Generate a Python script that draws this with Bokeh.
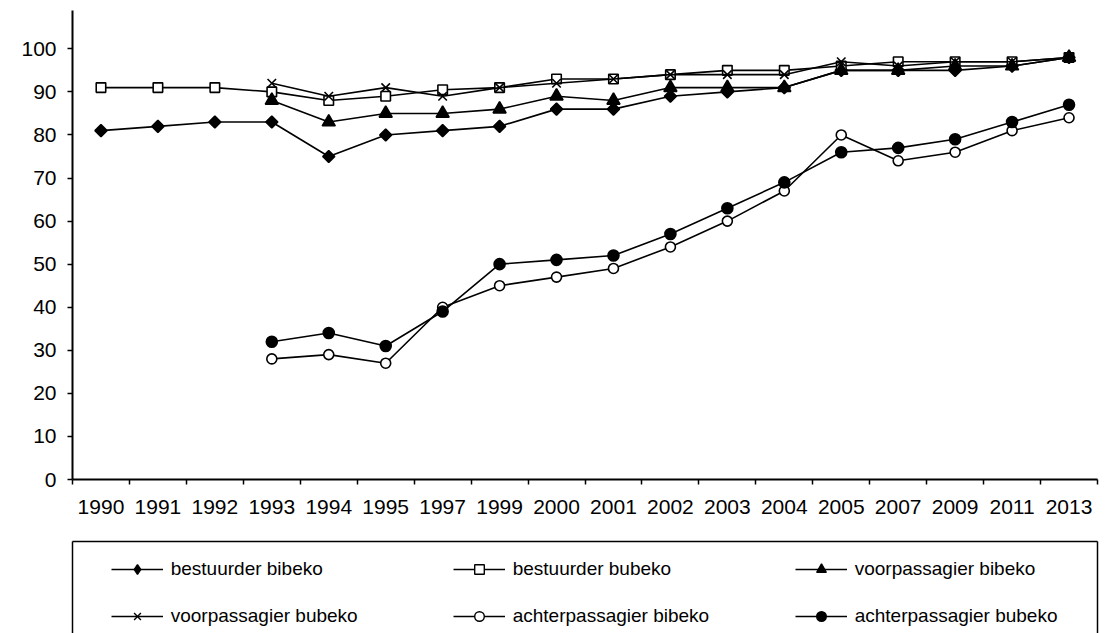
import math
from bokeh.plotting import figure
from bokeh.layouts import column
from bokeh.models import (FactorRange, Range1d, LinearAxis, CategoricalAxis, FixedTicker,
                          Legend, LegendItem)
from bokeh.embed import file_html
from bokeh.resources import INLINE

years = ["1990", "1991", "1992", "1993", "1994", "1995", "1997", "1999", "2000",
         "2001", "2002", "2003", "2004", "2005", "2007", "2009", "2011", "2013"]
years_late = years[3:]

bestuurder_bibeko = [81, 82, 83, 83, 75, 80, 81, 82, 86, 86, 89, 90, 91, 95, 95, 95, 96, 98]
bestuurder_bubeko = [91, 91, 91, 90, 88, 89, 90.5, 91, 93, 93, 94, 95, 95, 96, 97, 97, 97, 98]
voorpassagier_bibeko = [88, 83, 85, 85, 86, 89, 88, 91, 91, 91, 95, 95, 96, 96, 98]
voorpassagier_bubeko = [92, 89, 91, 89, 91, 92, 93, 94, 94, 94, 97, 96, 97, 97, 98]
achterpassagier_bibeko = [28, 29, 27, 40, 45, 47, 49, 54, 60, 67, 80, 74, 76, 81, 84]
achterpassagier_bubeko = [32, 34, 31, 39, 50, 51, 52, 57, 63, 69, 76, 77, 79, 83, 87]

y_ticks = [0, 10, 20, 30, 40, 50, 60, 70, 80, 90, 100]

FONT = "Liberation Sans"
LW = 1.6

# (label, x, y, chart marker, legend marker, size, fill, angle)
series = [
    ("bestuurder bibeko", years, bestuurder_bibeko, "square", "diamond", 8.5, "black", math.pi / 4),
    ("bestuurder bubeko", years, bestuurder_bubeko, "square", "square", 9.5, "white", 0),
    ("voorpassagier bibeko", years_late, voorpassagier_bibeko, "triangle", "triangle", 13, "black", 0),
    ("voorpassagier bubeko", years_late, voorpassagier_bubeko, "x", "x", 12, "black", 0),
    ("achterpassagier bibeko", years_late, achterpassagier_bibeko, "circle", "circle", 10, "white", 0),
    ("achterpassagier bubeko", years_late, achterpassagier_bubeko, "circle", "circle", 11, "black", 0),
]


def draw_series(fig, for_legend=False):
    items = []
    for label, xs, ys, marker, lmarker, size, fill, angle in series:
        lr = fig.line(xs, ys, line_color="black", line_width=LW)
        if for_legend:
            sr = fig.scatter(xs, ys, marker=lmarker, size=size, fill_color=fill,
                             line_color="black", line_width=1.4)
        else:
            sr = fig.scatter(xs, ys, marker=marker, size=size, angle=angle, fill_color=fill,
                             line_color="black", line_width=LW)
        items.append(LegendItem(label=label, renderers=[lr, sr]))
    return items


# ---------------- main chart ----------------
p = figure(width=1106, height=540, x_range=FactorRange(factors=years, range_padding=0),
           y_range=Range1d(0, 108.9), output_backend="svg", toolbar_location=None,
           x_axis_location=None, min_border_left=61, min_border_right=4,
           min_border_top=10, min_border_bottom=61)
p.outline_line_color = None
p.xgrid.grid_line_color = None
p.ygrid.grid_line_color = None

ya = p.yaxis[0]
ya.ticker = FixedTicker(ticks=y_ticks)
ya.minor_tick_line_color = None
ya.major_tick_in = 0
ya.major_tick_out = 5
ya.major_tick_line_width = 1.5
ya.axis_line_width = 2
ya.major_label_standoff = 11
ya.major_label_text_font = FONT
ya.major_label_text_font_size = "21px"
ya.major_label_text_color = "black"

tick_axis = LinearAxis(ticker=FixedTicker(ticks=list(range(len(years) + 1))),
                       major_tick_in=0, major_tick_out=5, major_tick_line_width=1.5,
                       minor_tick_line_color=None, axis_line_width=2,
                       major_label_text_font_size="1px", major_label_text_alpha=0,
                       major_label_standoff=0)
p.add_layout(tick_axis, "below")
cat_axis = CategoricalAxis(axis_line_color=None, major_tick_line_color=None,
                           major_tick_in=0, major_tick_out=0, major_label_standoff=15,
                           major_label_text_font=FONT, major_label_text_font_size="21px",
                           major_label_text_color="black")
p.add_layout(cat_axis, "below")

draw_series(p)

# ---------------- legend panel ----------------
p2 = figure(width=1106, height=93, x_range=FactorRange(factors=years, range_padding=0),
            y_range=Range1d(1000, 1001), output_backend="svg", toolbar_location=None,
            x_axis_location=None, y_axis_location=None, min_border_left=72,
            min_border_right=9, min_border_top=1, min_border_bottom=0)
p2.outline_line_color = None
p2.xgrid.grid_line_color = None
p2.ygrid.grid_line_color = None

for loc in ["left", "right", "above"]:
    ax = LinearAxis(ticker=FixedTicker(ticks=[]), axis_line_width=1.5, axis_line_color="black",
                    major_tick_line_color=None, minor_tick_line_color=None,
                    major_tick_out=0, major_tick_in=0, minor_tick_out=0, minor_tick_in=0,
                    major_label_text_font_size="0px", major_label_standoff=0)
    p2.add_layout(ax, loc)

legend_items = draw_series(p2, for_legend=True)
legend = Legend(items=legend_items, location=(38.7, 5), orientation="horizontal", ncols=3,
                glyph_width=52, glyph_height=24, label_height=24, label_width=259,
                label_standoff=8, spacing=23, padding=0, margin=0,
                border_line_alpha=0, background_fill_alpha=0,
                label_text_font=FONT, label_text_font_size="19px",
                label_text_color="black")
p2.add_layout(legend)

layout = column(p, p2, spacing=0)
open("out.html", "w").write(file_html(layout, INLINE))
